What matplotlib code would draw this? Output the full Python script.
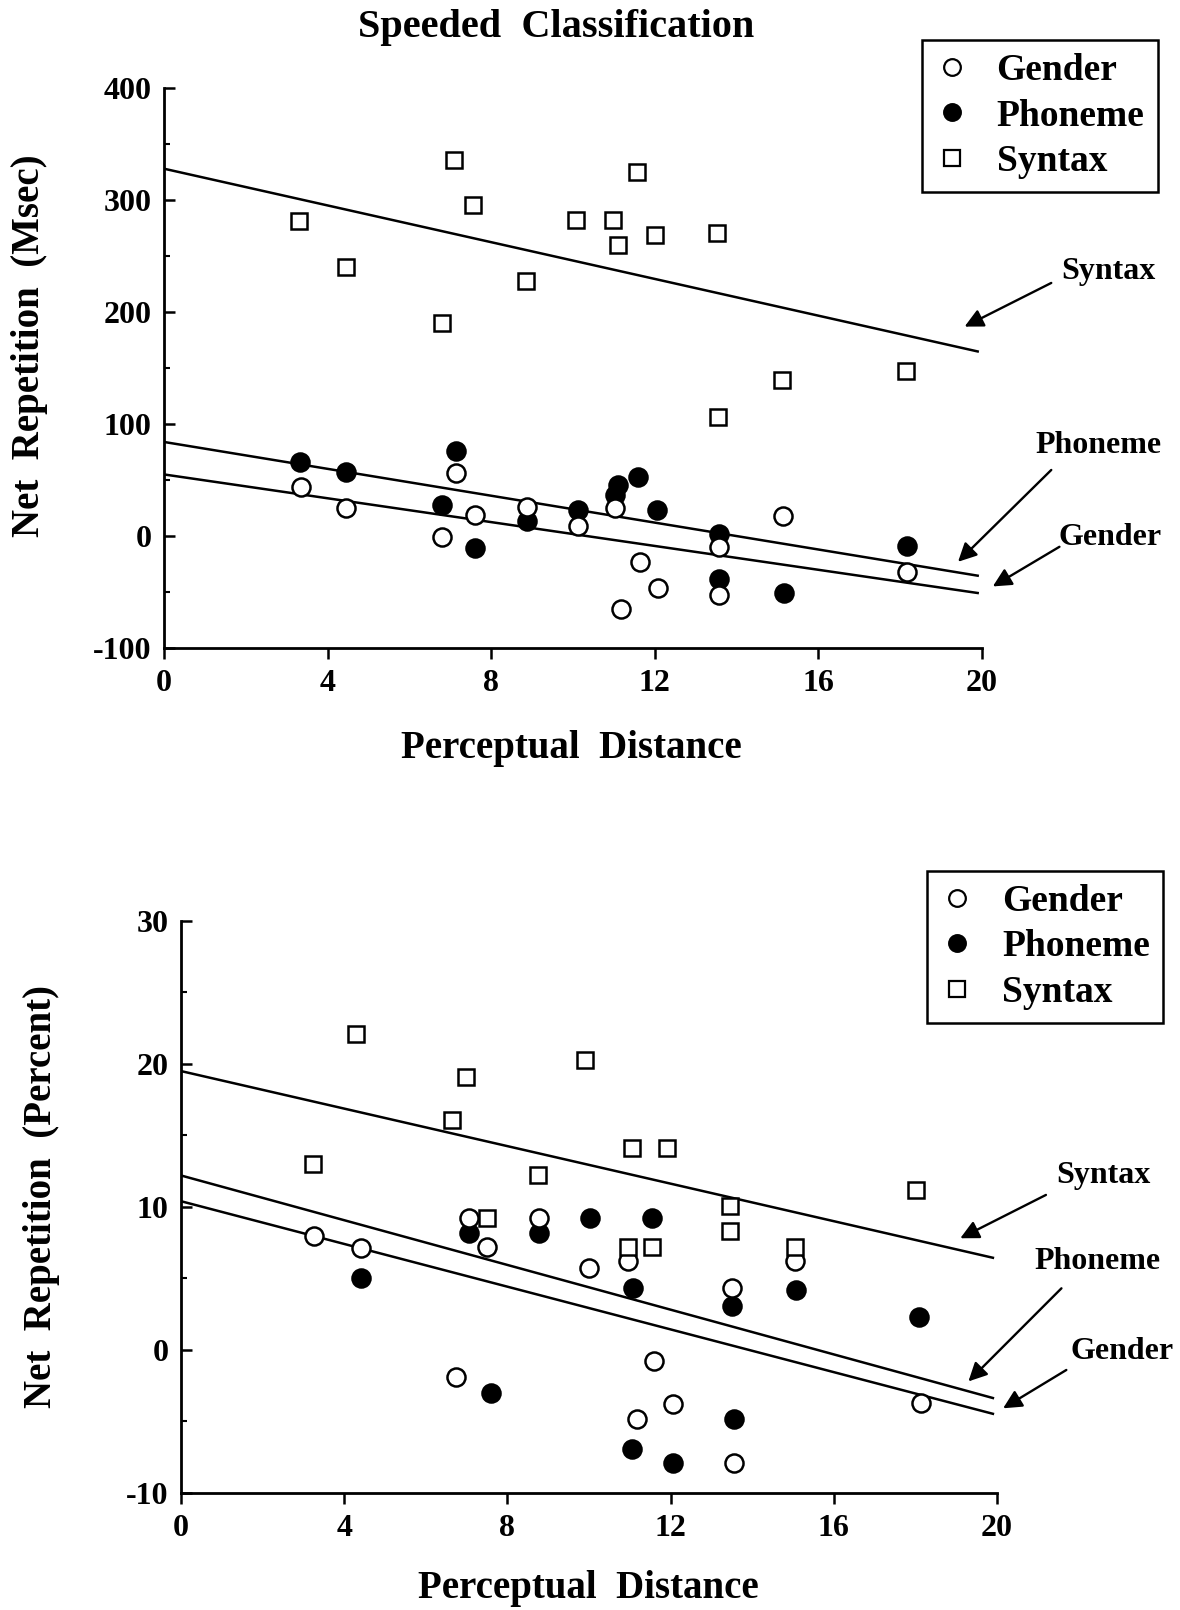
import matplotlib.pyplot as plt
from matplotlib.lines import Line2D
from matplotlib.ticker import MultipleLocator

plt.rcParams["font.family"] = ["Liberation Serif", "DejaVu Serif"]
plt.rcParams["axes.unicode_minus"] = False

# ---- top panel: speeded classification, net repetition in msec ----
MS_GENDER_X = [3.35, 4.45, 6.8, 7.13, 7.6, 8.87, 10.13, 11.04, 11.18, 11.64, 12.08, 13.58, 13.58, 15.13, 18.18]
MS_GENDER_Y = [44, 25, -1, 56, 19, 26, 9, 25, -65, -23, -46, -10, -53, 18, -32]

MS_PHONEME_X = [3.33, 4.46, 6.8, 7.13, 7.6, 8.87, 10.13, 11.04, 11.11, 11.6, 12.05, 13.58, 13.58, 15.16, 18.18]
MS_PHONEME_Y = [66, 57, 28, 76, -11, 13, 23, 37, 46, 53, 23, 2, -38, -51, -9]

MS_SYNTAX_X = [3.3, 4.45, 6.8, 7.1, 7.55, 8.85, 10.08, 10.98, 11.1, 11.58, 12.02, 13.52, 13.55, 15.12, 18.15]
MS_SYNTAX_Y = [281, 240, 190, 336, 296, 228, 282, 282, 260, 325, 269, 271, 106, 139, 147]

# regression lines: (intercept, slope)
MS_FITS = {"Gender": (55, -5.32), "Phoneme": (84, -6.0), "Syntax": (328, -8.2)}

# ---- bottom panel: net repetition in percent ----
PC_GENDER_X = [3.25, 4.4, 6.75, 7.05, 7.5, 8.77, 10.0, 10.95, 11.17, 11.6, 12.05, 13.5, 13.56, 15.04, 18.13]
PC_GENDER_Y = [8.0, 7.1, -1.9, 9.2, 7.2, 9.2, 5.7, 6.2, -4.85, -0.8, -3.8, 4.3, -7.9, 6.2, -3.7]

PC_PHONEME_X = [4.4, 7.05, 7.59, 8.77, 10.03, 11.09, 11.06, 11.54, 12.07, 13.5, 13.56, 15.07, 18.1]
PC_PHONEME_Y = [5.0, 8.2, -3.0, 8.2, 9.2, 4.3, -6.9, 9.2, -7.9, 3.1, -4.85, 4.2, 2.3]

PC_SYNTAX_X = [3.23, 4.29, 6.63, 6.99, 7.5, 8.74, 9.91, 10.95, 11.06, 11.54, 11.91, 13.45, 13.45, 15.04, 18.02]
PC_SYNTAX_Y = [13.0, 22.1, 16.1, 19.1, 9.2, 12.2, 20.3, 7.2, 14.1, 7.2, 14.1, 10.1, 8.3, 7.2, 11.2]

PC_FITS = {"Gender": (10.4, -0.747), "Phoneme": (12.2, -0.782), "Syntax": (19.5, -0.656)}

LINE_END = 19.9

STYLE = {
    "Gender": dict(marker="o", mfc="white", mec="black", ms=13, mew=1.8),
    "Phoneme": dict(marker="o", mfc="black", mec="black", ms=13, mew=1.8),
    "Syntax": dict(marker="s", mfc="white", mec="black", ms=12, mew=1.8),
}


def style_axes(ax, ylim, ymajor, yminor):
    ax.set_xlim(0, 20)
    ax.set_ylim(*ylim)
    for side in ("top", "right"):
        ax.spines[side].set_visible(False)
    for side in ("left", "bottom"):
        ax.spines[side].set_linewidth(2.0)
    ax.xaxis.set_major_locator(MultipleLocator(4))
    ax.yaxis.set_major_locator(MultipleLocator(ymajor))
    ax.yaxis.set_minor_locator(MultipleLocator(yminor))
    ax.tick_params(axis="y", which="major", direction="in", length=8, width=1.8,
                   labelsize=23, pad=9)
    ax.tick_params(axis="y", which="minor", direction="in", length=4, width=1.5)
    ax.tick_params(axis="x", which="major", direction="out", length=8, width=1.8,
                   labelsize=23, pad=7)
    for lab in ax.get_xticklabels() + ax.get_yticklabels():
        lab.set_fontweight("bold")


def draw_panel(ax, series, fits):
    for name in ("Phoneme", "Gender", "Syntax"):
        xs, ys = series[name]
        ax.plot(xs, ys, linestyle="none", zorder=3, clip_on=False, **STYLE[name])
    for name, (b, m) in fits.items():
        ax.plot([0, LINE_END], [b, b + m * LINE_END], color="black", lw=1.8, zorder=2)


def add_arrow(ax, label, tail, head, text_xy):
    ax.annotate("", xy=head, xytext=tail, annotation_clip=False,
                arrowprops=dict(arrowstyle="-|>", color="black", lw=1.7,
                                mutation_scale=28, shrinkA=0, shrinkB=0))
    ax.text(*text_xy, label, fontsize=23, fontweight="bold", ha="center", va="center",
            clip_on=False)


def add_legend(fig, anchor):
    handles = [Line2D([], [], linestyle="none", **dict(STYLE[n], ms=12, mew=1.6))
               for n in ("Gender", "Phoneme", "Syntax")]
    leg = fig.legend(handles, ["Gender", "Phoneme", "Syntax"], loc="upper right",
                     bbox_to_anchor=anchor, borderaxespad=0, fancybox=False,
                     framealpha=1, edgecolor="black", handlelength=0.9, handletextpad=0.75,
                     labelspacing=0.28, borderpad=0.35, prop=dict(size=27, weight="bold"))
    leg.get_frame().set_linewidth(1.8)


fig = plt.figure(figsize=(11.8, 16.1), dpi=100)

ax1 = fig.add_axes([0.139, 0.5975, 0.693, 0.3478])
draw_panel(ax1, {"Gender": (MS_GENDER_X, MS_GENDER_Y),
                 "Phoneme": (MS_PHONEME_X, MS_PHONEME_Y),
                 "Syntax": (MS_SYNTAX_X, MS_SYNTAX_Y)}, MS_FITS)
style_axes(ax1, (-100, 400), 100, 50)
add_arrow(ax1, "Syntax", (21.7, 226), (19.58, 187), (23.1, 236))
add_arrow(ax1, "Phoneme", (21.7, 59), (19.42, -23), (22.85, 81))
add_arrow(ax1, "Gender", (21.9, -9.6), (20.27, -45), (23.15, -1))

ax2 = fig.add_axes([0.1534, 0.0727, 0.6915, 0.3553])
draw_panel(ax2, {"Gender": (PC_GENDER_X, PC_GENDER_Y),
                 "Phoneme": (PC_PHONEME_X, PC_PHONEME_Y),
                 "Syntax": (PC_SYNTAX_X, PC_SYNTAX_Y)}, PC_FITS)
style_axes(ax2, (-10, 30), 10, 5)
add_arrow(ax2, "Syntax", (21.2, 10.84), (19.1, 7.81), (22.6, 12.2))
add_arrow(ax2, "Phoneme", (21.58, 4.31), (19.3, -2.2), (22.47, 6.17))
add_arrow(ax2, "Gender", (21.7, -1.4), (20.15, -4.08), (23.07, -0.12))

fig.text(0.4716, 0.983, "Speeded  Classification", fontsize=29, fontweight="bold",
         ha="center", va="center")
fig.text(0.025, 0.785, "Net  Repetition  (Msec)", fontsize=28, fontweight="bold",
         rotation=90, ha="center", va="center")
fig.text(0.035, 0.257, "Net  Repetition  (Percent)", fontsize=28, fontweight="bold",
         rotation=90, ha="center", va="center")
fig.text(0.484, 0.5354, "Perceptual  Distance", fontsize=28, fontweight="bold",
         ha="center", va="center")
fig.text(0.499, 0.0135, "Perceptual  Distance", fontsize=28, fontweight="bold",
         ha="center", va="center")

add_legend(fig, (0.981, 0.9752))
add_legend(fig, (0.986, 0.4592))

fig.savefig("out.png", dpi=100, facecolor="white")
